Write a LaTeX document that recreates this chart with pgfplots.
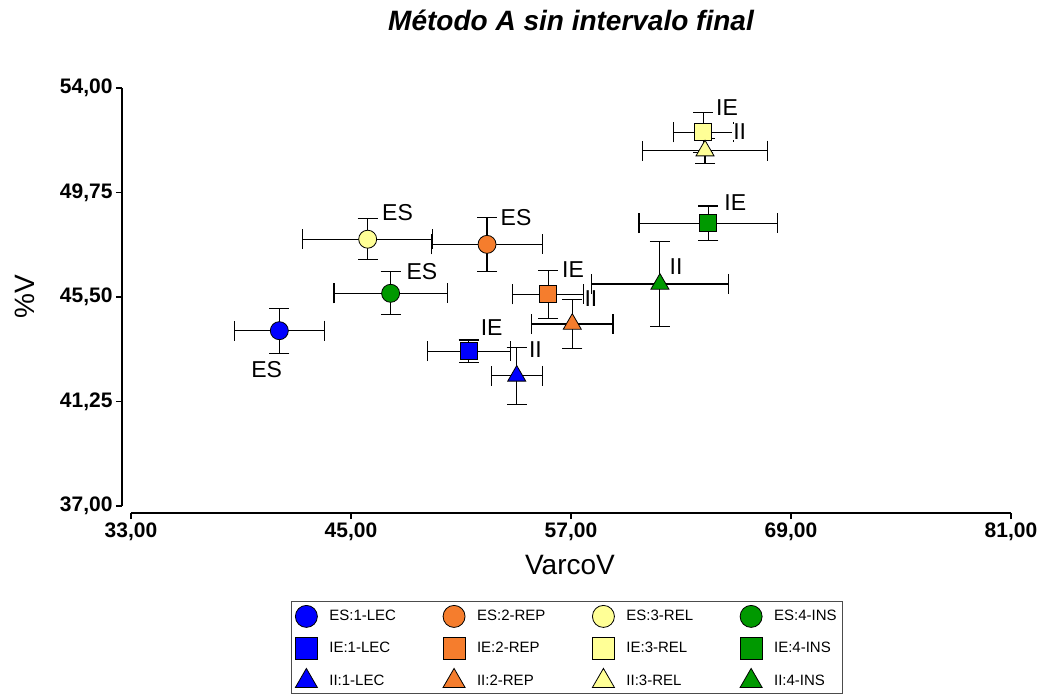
\documentclass[border=0pt]{standalone}
\usepackage{fontspec}
\setmainfont{Liberation Sans}
\usepackage{pgfplots}
\pgfplotsset{compat=1.18}
\definecolor{cblue}{RGB}{0,0,255}
\definecolor{corange}{RGB}{245,125,45}
\definecolor{cyellow}{RGB}{255,255,150}
\definecolor{cgreen}{RGB}{0,153,0}
\pgfplotsset{
  pt/.style n args={3}{only marks, mark=#1, mark size=#3,
    mark options={fill=#2, draw=black, line width=0.8pt, solid},
    error bars/.cd, x dir=both, x explicit, y dir=both, y explicit,
    error bar style={black, line width=1.1pt},
    error mark options={rotate=90, black, mark size=10pt, line width=1.1pt}},
  tri/.style={legend image post style={mark size=12.7pt}},
}
\begin{document}
\begin{tikzpicture}
\path[use as bounding box] (-131pt,-189pt) rectangle (907pt,506pt);
\begin{axis}[
  at={(0pt,0pt)}, anchor=south west,
  scale only axis, width=880pt, height=418pt,
  xmin=33, xmax=81, ymin=37, ymax=54,
  axis x line*=bottom, axis y line*=left,
  axis line style={-, line width=1.3pt, black},
  x axis line style={yshift=-7pt},
  y axis line style={xshift=-9pt},
  xtick={33,45,57,69,81}, ytick={37,41.25,45.5,49.75,54},
  minor tick num=0,
  tick align=outside, major tick length=6pt,
  every x tick/.append style={yshift=-7pt, line width=1.3pt, black},
  every y tick/.append style={xshift=-9pt, line width=1.3pt, black},
  xticklabel style={yshift=-7pt},
  yticklabel style={xshift=-9pt},
  tick label style={font=\fontsize{21}{22}\selectfont\bfseries},
  /pgf/number format/fixed, /pgf/number format/fixed zerofill,
  /pgf/number format/precision=2, /pgf/number format/use comma,
  /pgf/number format/assume math mode=true,
  legend columns=4,
  legend cell align=left,
  legend style={at={(axis description cs:0.1818,-0.2273)}, anchor=north west,
    draw=black!70, line width=0.8pt, fill=white,
    font=\fontsize{15}{18}\selectfont, inner xsep=4pt, inner ysep=4pt,
    row sep=9.5pt,
    /tikz/every even column/.append style={column sep=45pt}},
  legend image post style={mark size=11pt},
  legend image code/.code={\path[draw=none,fill=none] (0pt,0pt) -- (32pt,0pt);\draw[#1] plot coordinates {(11pt,0pt)};},
  clip=false,
]
% ES
\addplot[pt={*}{cblue}{9pt}] coordinates {(41.09,44.13) +- (2.46,0.92)};
\addlegendentry{ES:1-LEC}
\addplot[pt={*}{corange}{9pt}] coordinates {(52.42,47.64) +- (3.01,1.09)};
\addlegendentry{ES:2-REP}
\addplot[pt={*}{cyellow}{9pt}] coordinates {(45.91,47.85) +- (3.55,0.84)};
\addlegendentry{ES:3-REL}
\addplot[pt={*}{cgreen}{9pt}] coordinates {(47.16,45.65) +- (3.09,0.87)};
\addlegendentry{ES:4-INS}
% IE
\addplot[pt={square*}{cblue}{8.5pt}] coordinates {(51.42,43.30) +- (2.27,0.45)};
\addlegendentry{IE:1-LEC}
\addplot[pt={square*}{corange}{8.5pt}] coordinates {(55.75,45.61) +- (1.95,0.97)};
\addlegendentry{IE:2-REP}
\addplot[pt={square*}{cyellow}{8.5pt}] coordinates {(64.22,52.20) +- (1.62,0.81)};
\addlegendentry{IE:3-REL}
\addplot[pt={square*}{cgreen}{8.5pt}] coordinates {(64.49,48.50) +- (3.78,0.70)};
\addlegendentry{IE:4-INS}
% II
\addplot[tri, pt={triangle*}{cblue}{10.4pt}] coordinates {(54.04,42.29) +- (1.39,1.15)};
\addlegendentry{II:1-LEC}
\addplot[tri, pt={triangle*}{corange}{10.4pt}] coordinates {(57.07,44.40) +- (2.22,0.99)};
\addlegendentry{II:2-REP}
\addplot[tri, pt={triangle*}{cyellow}{10.4pt}] coordinates {(64.31,51.45) +- (3.43,0.51)};
\addlegendentry{II:3-REL}
\addplot[tri, pt={triangle*}{cgreen}{10.4pt}] coordinates {(61.85,46.03) +- (3.72,1.72)};
\addlegendentry{II:4-INS}
% point labels
\begin{scope}[every node/.style={font=\fontsize{23}{26}\selectfont, inner sep=0pt}]
\node at (axis cs:47.54,48.92) {ES};
\node at (axis cs:54.00,48.71) {ES};
\node at (axis cs:48.87,46.53) {ES};
\node at (axis cs:40.40,42.53) {ES};
\node at (axis cs:52.67,44.24) {IE};
\node at (axis cs:55.06,43.37) {II};
\node at (axis cs:57.11,46.62) {IE};
\node at (axis cs:58.09,45.42) {II};
\node at (axis cs:62.73,46.72) {II};
\node at (axis cs:65.96,49.34) {IE};
\node at (axis cs:65.51,53.19) {IE};
\node[fill=white, inner xsep=1pt] at (axis cs:66.20,52.21) {II};
\end{scope}
\end{axis}
\node[font=\fontsize{28}{32}\selectfont\bfseries\itshape] at (440pt,486pt) {Método A sin intervalo final};
\node[font=\fontsize{28}{32}\selectfont] at (439pt,-59pt) {VarcoV};
\node[font=\fontsize{28}{32}\selectfont, rotate=90] at (-106pt,209pt) {\%V};
\end{tikzpicture}
\end{document}
